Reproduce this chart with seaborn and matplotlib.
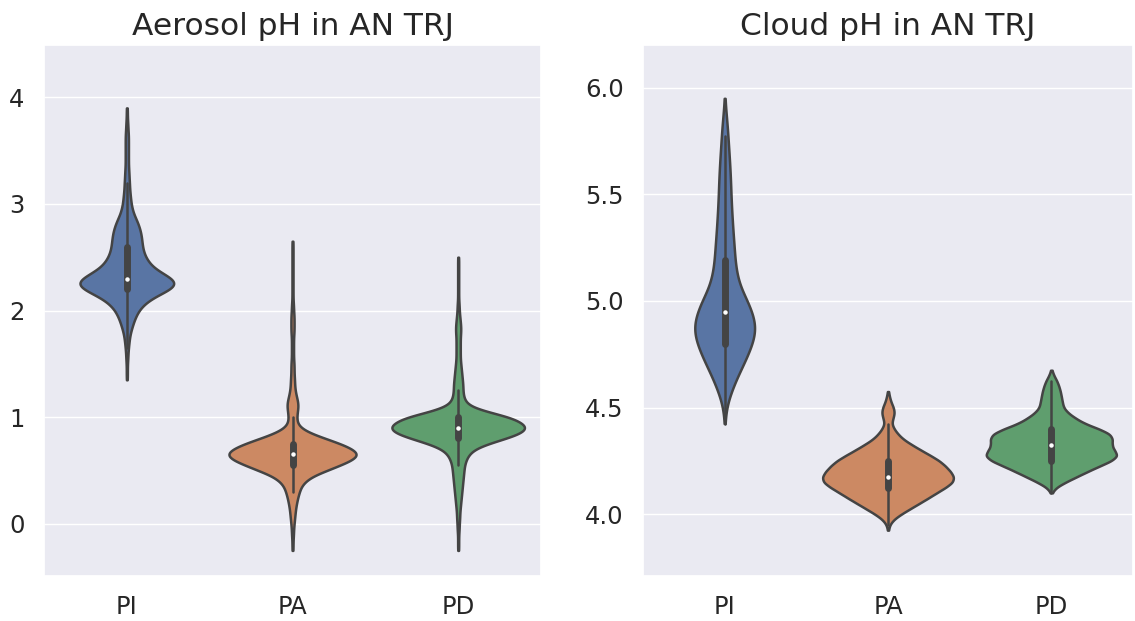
import numpy as np
import pandas as pd
import matplotlib
matplotlib.use("Agg")
import matplotlib.pyplot as plt
import seaborn as sns

# ---------------- data (value grid + frequency) -------------
groups = ["PI", "PA", "PD"]

# Aerosol pH
aer_pi_vals = [1.35, 1.40, 1.45, 1.50, 1.55, 1.60, 1.65, 1.70, 1.75, 1.80, 1.85, 1.90,
               1.95, 2.00, 2.05, 2.10, 2.15, 2.20, 2.25, 2.30, 2.35, 2.40, 2.45, 2.50,
               2.55, 2.60, 2.65, 2.70, 2.75, 2.80, 2.85, 2.90, 2.95, 3.00, 3.05, 3.10,
               3.15, 3.20, 3.25, 3.30, 3.35, 3.40, 3.45, 3.50, 3.55, 3.60, 3.65, 3.70,
               3.75, 3.80, 3.85, 3.90]
aer_pi_cnts = [1, 1, 1, 1, 2, 2, 3, 4, 5, 7, 10, 13,
               17, 22, 30, 42, 60, 82, 94, 85, 66, 50, 41, 35,
               31, 29, 28, 27, 25, 22, 18, 13, 10, 8, 7, 6,
               5, 5, 4, 4, 3, 3, 3, 3, 3, 3, 3, 2,
               2, 1, 1, 1]

aer_pa_vals = [-0.25, -0.20, -0.15, -0.10, -0.05, 0.00, 0.05, 0.10, 0.15, 0.20, 0.25,
               0.30, 0.35, 0.40, 0.45, 0.50, 0.55, 0.60, 0.65, 0.70, 0.75, 0.80, 0.85,
               0.90, 0.95, 1.00, 1.05, 1.10, 1.15, 1.20, 1.25, 1.30, 1.35, 1.40, 1.45,
               1.50, 1.55, 1.60, 1.65, 1.70, 1.75, 1.80, 1.85, 1.90, 1.95, 2.00, 2.05,
               2.10, 2.15, 2.20, 2.25, 2.30, 2.35, 2.40, 2.45, 2.50, 2.55, 2.60, 2.65]
aer_pa_cnts = [1, 1, 1, 2, 2, 3, 4, 5, 6, 8, 10,
               13, 16, 24, 38, 65, 90, 115, 128, 115, 92, 62, 33,
               14, 8, 8, 9, 11, 10, 7, 5, 4, 4, 3, 3,
               3, 2, 2, 2, 2, 2, 3, 3, 3, 3, 2, 2,
               1, 1, 1, 1, 1, 1, 1, 1, 1, 1, 1, 1]

aer_pd_vals = [-0.25, -0.20, -0.15, -0.10, -0.05, 0.00, 0.05, 0.10, 0.15, 0.20, 0.25,
               0.30, 0.35, 0.40, 0.45, 0.50, 0.55, 0.60, 0.65, 0.70, 0.75, 0.80, 0.85,
               0.90, 0.95, 1.00, 1.05, 1.10, 1.15, 1.20, 1.25, 1.30, 1.35, 1.40, 1.45,
               1.50, 1.55, 1.60, 1.65, 1.70, 1.75, 1.80, 1.85, 1.90, 1.95, 2.00, 2.05,
               2.10, 2.15, 2.20, 2.25, 2.30, 2.35, 2.40, 2.45, 2.50]
aer_pd_cnts = [1, 1, 1, 1, 2, 2, 3, 3, 4, 5, 6,
               7, 8, 9, 10, 11, 12, 15, 20, 30, 55, 90, 120,
               132, 120, 100, 55, 22, 13, 10, 9, 9, 8, 7, 6,
               5, 4, 4, 4, 4, 4, 5, 5, 4, 3, 2, 2,
               1, 1, 1, 1, 1, 1, 1, 1, 1]

# Cloud pH
cld_pi_vals = [4.425, 4.450, 4.475, 4.500, 4.525, 4.550, 4.575, 4.600, 4.625, 4.650,
               4.675, 4.700, 4.725, 4.750, 4.775, 4.800, 4.825, 4.850, 4.875, 4.900,
               4.925, 4.950, 4.975, 5.000, 5.025, 5.050, 5.075, 5.100, 5.125, 5.150,
               5.175, 5.200, 5.225, 5.250, 5.275, 5.300, 5.325, 5.350, 5.375, 5.400,
               5.425, 5.450, 5.475, 5.500, 5.525, 5.550, 5.575, 5.600, 5.625, 5.650,
               5.675, 5.700, 5.725, 5.750, 5.775, 5.800, 5.825, 5.850, 5.875, 5.900,
               5.925, 5.950]
cld_pi_cnts = [1, 1, 2, 3, 6, 9, 13, 17, 21, 26,
               31, 36, 41, 46, 50, 54, 58, 60, 61, 60,
               57, 53, 49, 45, 39, 33, 29, 26, 24, 22,
               21, 20, 19, 19, 18, 17, 16, 16, 15, 14,
               14, 13, 13, 12, 12, 12, 11, 11, 10, 10,
               9, 8, 8, 7, 6, 6, 5, 4, 3, 2,
               1, 1]

cld_pa_vals = [3.925, 3.950, 3.975, 4.000, 4.025, 4.050, 4.075, 4.100, 4.125, 4.150,
               4.175, 4.200, 4.225, 4.250, 4.275, 4.300, 4.325, 4.350, 4.375, 4.400,
               4.425, 4.450, 4.475, 4.500, 4.525, 4.550, 4.575]
cld_pa_cnts = [1, 3, 11, 26, 44, 62, 80, 97, 115, 130,
               132, 125, 115, 103, 85, 66, 48, 31, 20, 12,
               7, 10, 13, 11, 6, 3, 1]

cld_pd_vals = [4.100, 4.125, 4.150, 4.175, 4.200, 4.225, 4.250, 4.275, 4.300, 4.325,
               4.350, 4.375, 4.400, 4.425, 4.450, 4.475, 4.500, 4.525, 4.550, 4.575,
               4.600, 4.625, 4.650, 4.675]
cld_pd_cnts = [1, 9, 28, 50, 72, 95, 120, 133, 125, 120,
               122, 118, 95, 66, 48, 33, 24, 22, 20, 18,
               15, 11, 5, 1]


def expand(vals_list, cnts_list):
    frames = []
    for g, v, c in zip(groups, vals_list, cnts_list):
        frames.append(pd.DataFrame({"group": g, "pH": np.repeat(v, c)}))
    return pd.concat(frames, ignore_index=True)


aer_df = expand([aer_pi_vals, aer_pa_vals, aer_pd_vals],
                [aer_pi_cnts, aer_pa_cnts, aer_pd_cnts])
cld_df = expand([cld_pi_vals, cld_pa_vals, cld_pd_vals],
                [cld_pi_cnts, cld_pa_cnts, cld_pd_cnts])

# ---------------- plotting -------------
sns.set_theme(style="darkgrid")
plt.rcParams["font.family"] = ["DejaVu Sans"]

fig = plt.figure(figsize=(11.35, 6.21), dpi=100)
ax1 = fig.add_axes([44 / 1135, 1 - 576 / 621, 497 / 1135, 531 / 621])
ax2 = fig.add_axes([643 / 1135, 1 - 576 / 621, 490 / 1135, 531 / 621])

inner_kws = dict(box_width=5, whis_width=1.8, marker="o", markersize=2.2)
common = dict(x="group", y="pH", hue="group", order=groups, palette="deep",
              legend=False, density_norm="area", common_norm=True, cut=0,
              gridsize=400, linewidth=1.8, linecolor="#444444", inner="box",
              inner_kws=inner_kws)

sns.violinplot(data=aer_df, ax=ax1, bw_method=0.12, **common)
sns.violinplot(data=cld_df, ax=ax2, bw_method=0.15, **common)

ax1.set_ylim(-0.49, 4.49)
ax1.set_yticks([0, 1, 2, 3, 4])
ax2.set_ylim(3.71, 6.2)
ax2.set_yticks([4.0, 4.5, 5.0, 5.5, 6.0])
ax2.set_yticklabels(["4.0", "4.5", "5.0", "5.5", "6.0"])

ax1.set_title("Aerosol pH in AN TRJ", fontsize=22.5, pad=7)
ax2.set_title("Cloud pH in AN TRJ", fontsize=22.5, pad=7)
for ax in (ax1, ax2):
    ax.set_xlabel("")
    ax.set_ylabel("")
    ax.tick_params(axis="both", labelsize=17.5, pad=8)
    ax.grid(axis="x", visible=False)

fig.savefig("out.png", dpi=100)
